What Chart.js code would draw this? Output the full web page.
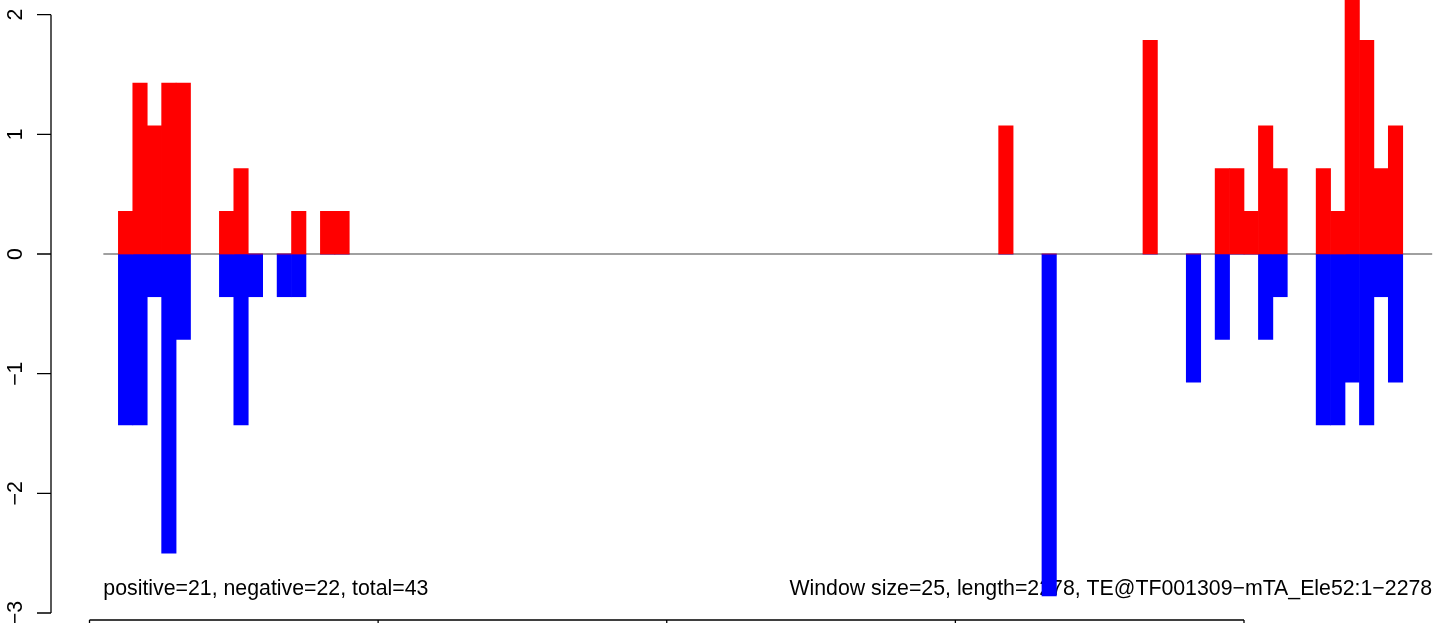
<!DOCTYPE html>
<html>
<head>
<meta charset="utf-8">
<script src="https://cdn.jsdelivr.net/npm/chart.js@4.4.1/dist/chart.umd.min.js"></script>
<style>
  html, body { margin: 0; padding: 0; background: #fff; }
  #wrap { width: 1444px; height: 623px; position: relative; }
</style>
</head>
<body>
<div id="wrap"><canvas id="myChart"></canvas></div>
<script>
// sliding window scores, 25 bp windows along a 2278 bp element
const windowSize = 25;
const windows = [2, 3, 4, 5, 6, 9, 10, 11, 13, 14, 16, 17, 63, 66, 73, 76, 78, 79, 80, 81, 82, 85, 86, 87, 88, 89, 90];
const plusScore = [0.357, 1.429, 1.071, 1.429, 1.429, 0.357, 0.714, 0, 0, 0.357, 0.357, 0.357, 1.071, 0, 1.786, 0, 0.714, 0.714, 0.357, 1.071, 0.714, 0.714, 0.357, 2.143, 1.786, 0.714, 1.071];
const minusScore = [-1.429, -1.429, -0.357, -2.5, -0.714, -0.357, -1.429, -0.357, -0.357, -0.357, 0, 0, 0, -2.857, 0, -1.071, -0.714, 0, 0, -0.714, -0.357, -1.429, -1.429, -1.071, -1.429, -0.357, -1.071];
const yTicks = [2, 1, 0, -1, -2, -3];
const xTicks = [0, 500, 1000, 1500, 2000];
const baseSpan = [24, 2326];
const leftNote = 'positive=21, negative=22, total=43';
const rightNote = 'Window size=25, length=2278, TE@TF001309\u2212mTA_Ele52:1\u22122278';

const FONT = '21.3px "Liberation Sans", Arial, Helvetica, sans-serif';

function toPoints(vals) {
    return windows.map((w, i) => ({ x: w * windowSize + windowSize / 2, y: vals[i] }));
}

function minus(t) {
    return String(t).replace('-', '\u2212');
}

// notes go under the bars
const notes = {
    id: 'notes',
    beforeDatasetsDraw(chart) {
        const ctx = chart.ctx;
        const x = chart.scales.x, y = chart.scales.y;
        const ty = y.getPixelForValue(-2.8);
        ctx.save();
        ctx.font = FONT;
        ctx.fillStyle = '#000';
        ctx.textBaseline = 'middle';
        ctx.textAlign = 'left';
        ctx.fillText(leftNote, x.getPixelForValue(baseSpan[0]), ty);
        ctx.textAlign = 'right';
        ctx.fillText(rightNote, x.getPixelForValue(baseSpan[1]), ty);
        ctx.restore();
    }
};

// R-style axes: y axis on the left, x axis line with ticks below
const rAxes = {
    id: 'rAxes',
    afterDraw(chart) {
        const ctx = chart.ctx;
        const x = chart.scales.x, y = chart.scales.y;
        const ax = 51;
        const by = 620;
        ctx.save();
        ctx.strokeStyle = '#000';
        ctx.fillStyle = '#000';
        ctx.lineWidth = 1.3;
        ctx.beginPath();
        ctx.moveTo(ax, y.getPixelForValue(yTicks[0]));
        ctx.lineTo(ax, y.getPixelForValue(yTicks[yTicks.length - 1]));
        yTicks.forEach(t => {
            const py = y.getPixelForValue(t);
            ctx.moveTo(ax, py);
            ctx.lineTo(ax - 14, py);
        });
        ctx.moveTo(x.getPixelForValue(xTicks[0]), by);
        ctx.lineTo(x.getPixelForValue(xTicks[xTicks.length - 1]), by);
        xTicks.forEach(t => {
            const px = x.getPixelForValue(t);
            ctx.moveTo(px, by);
            ctx.lineTo(px, by + 12);
        });
        ctx.stroke();

        ctx.font = FONT;
        ctx.textAlign = 'center';
        ctx.textBaseline = 'alphabetic';
        yTicks.forEach(t => {
            ctx.save();
            ctx.translate(22, y.getPixelForValue(t));
            ctx.rotate(-Math.PI / 2);
            ctx.fillText(minus(t), 0, 0);
            ctx.restore();
        });
        ctx.restore();
    }
};

new Chart('myChart', {
    type: 'bar',
    data: {
        datasets: [
            {
                type: 'line',
                data: baseSpan.map(v => ({ x: v, y: 0 })),
                borderColor: '#808080',
                borderWidth: 1.5,
                pointRadius: 0,
                order: 3,
                clip: false
            },
            {
                label: 'plus',
                data: toPoints(plusScore),
                backgroundColor: '#ff0000',
                borderWidth: 0,
                grouped: false,
                barPercentage: 1,
                categoryPercentage: 1,
                order: 1,
                clip: false
            },
            {
                label: 'minus',
                data: toPoints(minusScore),
                backgroundColor: '#0000ff',
                borderWidth: 0,
                grouped: false,
                barPercentage: 1,
                categoryPercentage: 1,
                order: 1,
                clip: false
            }
        ]
    },
    options: {
        responsive: true,
        maintainAspectRatio: false,
        devicePixelRatio: 1,
        animation: false,
        layout: { padding: { left: 89.5, right: 200, top: 14.7, bottom: 10 } },
        plugins: {
            legend: { display: false },
            tooltip: { enabled: false }
        },
        scales: {
            x: { type: 'linear', display: false, min: 0, max: 2000, offset: false },
            y: { display: false, min: -3, max: 2 }
        }
    },
    plugins: [notes, rAxes]
});
</script>
</body>
</html>
